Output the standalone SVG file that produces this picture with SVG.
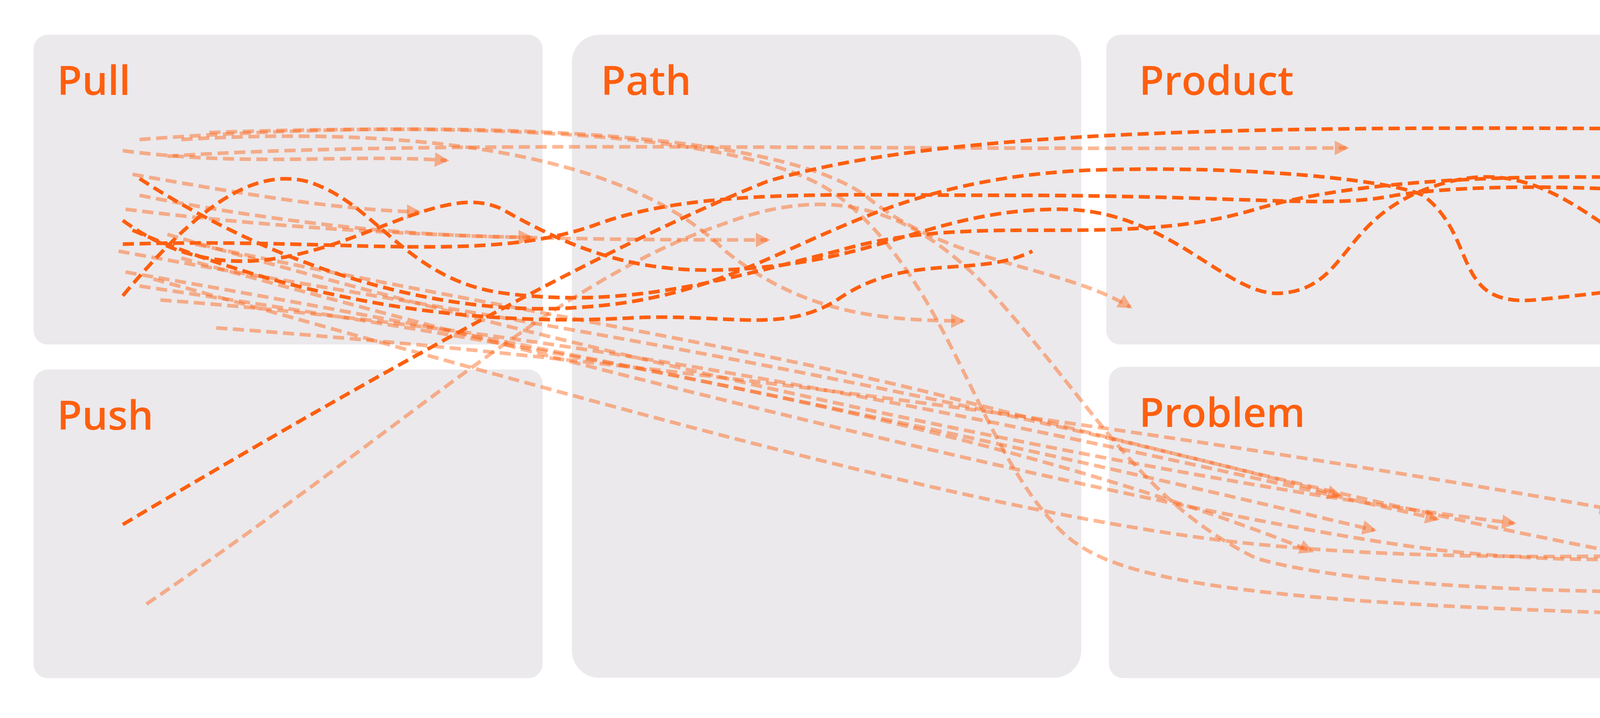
<svg xmlns="http://www.w3.org/2000/svg" width="5600" height="1838" viewBox="0 0 5600 1838">
<defs>
<style>
.p{fill:#EBE9EC}
.t{font-family:"Open Sans","Noto Sans",sans-serif;font-size:104px;font-weight:600;fill:#FF5F0F}
.d{fill:none;stroke:#FF5F0F;stroke-width:2.6;stroke-dasharray:8 4}
.l{fill:none;stroke:#FF5F0F;stroke-width:2.6;stroke-dasharray:8 4;stroke-opacity:0.45}
</style>
<marker id="ad" viewBox="0 0 10 10" refX="8" refY="5" markerWidth="4" markerHeight="4" orient="auto" markerUnits="strokeWidth"><path d="M0,0L10,5L0,10z" fill="#FF5F0F"/></marker>
<marker id="al" viewBox="0 0 10 10" refX="8" refY="5" markerWidth="4" markerHeight="4" orient="auto" markerUnits="strokeWidth"><path d="M0,0L10,5L0,10z" fill="#FF5F0F" fill-opacity="0.45"/></marker>
</defs>
<rect width="5600" height="1838" fill="#fff"/>
<g id="pull"><rect class="p" x="86" y="89" width="1303" height="793" rx="36"/><text class="t" x="146" y="243">Pull</text></g>
<g id="path"><rect class="p" x="1464" y="89" width="1304" height="1646" rx="70"/><text class="t" x="1538" y="243">Path</text></g>
<g id="product"><rect class="p" x="2832" y="89" width="1303" height="793" rx="36"/><text class="t" x="2916" y="243">Product</text></g>
<g id="process"><rect class="p" x="4189" y="89" width="1304" height="793" rx="36"/><text class="t" x="4266" y="243">Process</text></g>
<g id="push"><rect class="p" x="86" y="946" width="1303" height="790" rx="36"/><text class="t" x="146" y="1100">Push</text></g>
<g id="problem"><rect class="p" x="2839" y="939" width="1296" height="797" rx="36"/><text class="t" x="2916" y="1093">Problem</text></g>
<g id="person"><rect class="p" x="4200" y="939" width="1300" height="797" rx="36"/><text class="t" x="4266" y="1093">Person</text></g>
<g id="connectors" transform="scale(3.5714)">
<g marker-end="url(#al)">
<path class="l" d="M88,108 C180,120 250,110 320,115"/>
<path class="l" d="M95,125 C180,140 240,150 300,152"/>
<path class="l" d="M100,140 C200,160 300,170 380,170"/>
<path class="l" d="M90,150 C250,170 400,172 550,172"/>
<path class="l" d="M130,100 C300,90 450,110 520,180 C570,220 620,230 690,230"/>
<path class="l" d="M100,100 C300,85 550,90 620,140 C680,190 760,190 810,220"/>
<path class="l" d="M120,112 C300,100 600,108 965,106"/>
<path class="l" d="M150,95 C350,88 540,95 600,140 C680,200 700,320 760,380 C800,420 900,440 1485,445"/>
<path class="l" d="M105,433 C300,300 400,200 520,160 C600,130 660,150 720,220 C790,300 820,360 900,400 C1000,430 1300,430 1518,413"/>
<path class="l" d="M85,180 C300,220 600,260 960,355"/>
<path class="l" d="M90,195 C350,240 650,300 985,380"/>
<path class="l" d="M100,205 C400,250 700,300 940,395"/>
<path class="l" d="M115,215 C450,240 800,320 1030,372"/>
<path class="l" d="M120,168 C400,250 800,340 1085,375"/>
<path class="l" d="M155,235 C500,260 900,320 1155,365"/>
<path class="l" d="M130,185 C400,260 800,360 1000,390 C1200,420 1350,380 1505,373"/>
<path class="l" d="M110,200 C400,280 700,370 900,390 C1100,410 1350,390 1505,390"/>
<path class="l" d="M140,175 C350,220 550,250 700,290 C900,340 1100,390 1300,420 C1400,430 1450,420 1485,445"/>
</g>
<g marker-end="url(#ad)">
<path class="d" d="M88,376 C300,250 450,170 550,130 C700,85 1000,90 1435,95"/>
<path class="d" d="M100,128 C180,180 300,230 420,220 C560,210 600,130 780,122 C900,118 1000,130 1020,140 C1060,170 1040,220 1100,215 C1250,200 1400,170 1435,218"/>
<path class="d" d="M88,158 C200,240 300,120 360,150 C430,190 480,200 560,190 C640,180 680,150 760,150 C840,150 880,215 920,210 C970,205 960,150 1040,130 C1120,110 1160,190 1210,185 L1248,177"/>
<path class="d" d="M88,175 C250,170 350,190 430,160 C500,135 600,140 720,140 C900,140 950,150 1000,140 C1100,125 1300,140 1435,172"/>
<path class="d" d="M88,212 C140,150 180,120 220,130 C270,145 290,200 360,210 C450,222 520,200 600,180 C700,150 800,180 900,150 C1000,120 1200,120 1435,145"/>
</g>
<path class="d" d="M95,165 C200,210 320,235 450,228 C520,224 560,240 600,215 C650,180 700,200 740,180"/>
</g>
</svg>
